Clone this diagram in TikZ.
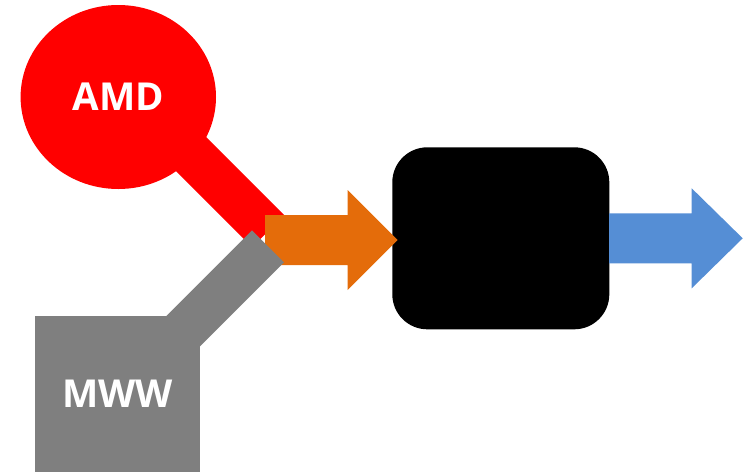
\documentclass[tikz,border=0pt]{standalone}
\usepackage{fontspec}
\setmainfont{Open Sans}
\usetikzlibrary{shapes.geometric}
\definecolor{amdred}{HTML}{FF0000}
\definecolor{mwwgray}{HTML}{7F7F7F}
\definecolor{feedorange}{HTML}{E46C0A}
\definecolor{outblue}{HTML}{558ED5}
\tikzset{
  label text/.style={text=white, font=\bfseries\fontsize{38.5}{42}\selectfont},
  bar/.style={line width=45.3pt, line cap=butt},
}
\begin{document}
\begin{tikzpicture}[x=1pt, y=-1pt]
  \useasboundingbox (0,0) rectangle (743,472);

  % AMD source and its feed bar
  \node[ellipse, fill=amdred, minimum width=195.4pt, minimum height=184pt,
        inner sep=0pt, label text] (amd) at (118.3,97) {AMD};
  \coordinate (amdin) at (150,113);
  \coordinate (amdend) at (268.15,231.15);
  \draw[bar, amdred] (amdin) -- (amdend);

  % processing block
  \node[rectangle, fill=black, rounded corners=35pt, minimum width=217pt,
        minimum height=182pt, inner sep=0pt] (proc) at (500.8,238.3) {};

  % combined feed arrow into the block
  \fill[feedorange] (265,215) -- (347.5,215) -- (347.5,190) -- (397.7,240)
    -- (347.5,290) -- (347.5,265) -- (265,265) -- cycle;

  % MWW source and its feed bar
  \node[rectangle, fill=mwwgray, minimum width=165pt, minimum height=156pt,
        inner sep=0pt, label text] (mww) at (117.5,394) {MWW};
  \coordinate (mwwin) at (160,354.3);
  \coordinate (mwwend) at (268,246.3);
  \draw[bar, mwwgray] (mwwin) -- (mwwend);

  % output arrow
  \fill[outblue] (609,213.3) -- (691.7,213.3) -- (691.7,188.3) -- (742.7,238.3)
    -- (691.7,288.3) -- (691.7,263.3) -- (609,263.3) -- cycle;
\end{tikzpicture}
\end{document}
